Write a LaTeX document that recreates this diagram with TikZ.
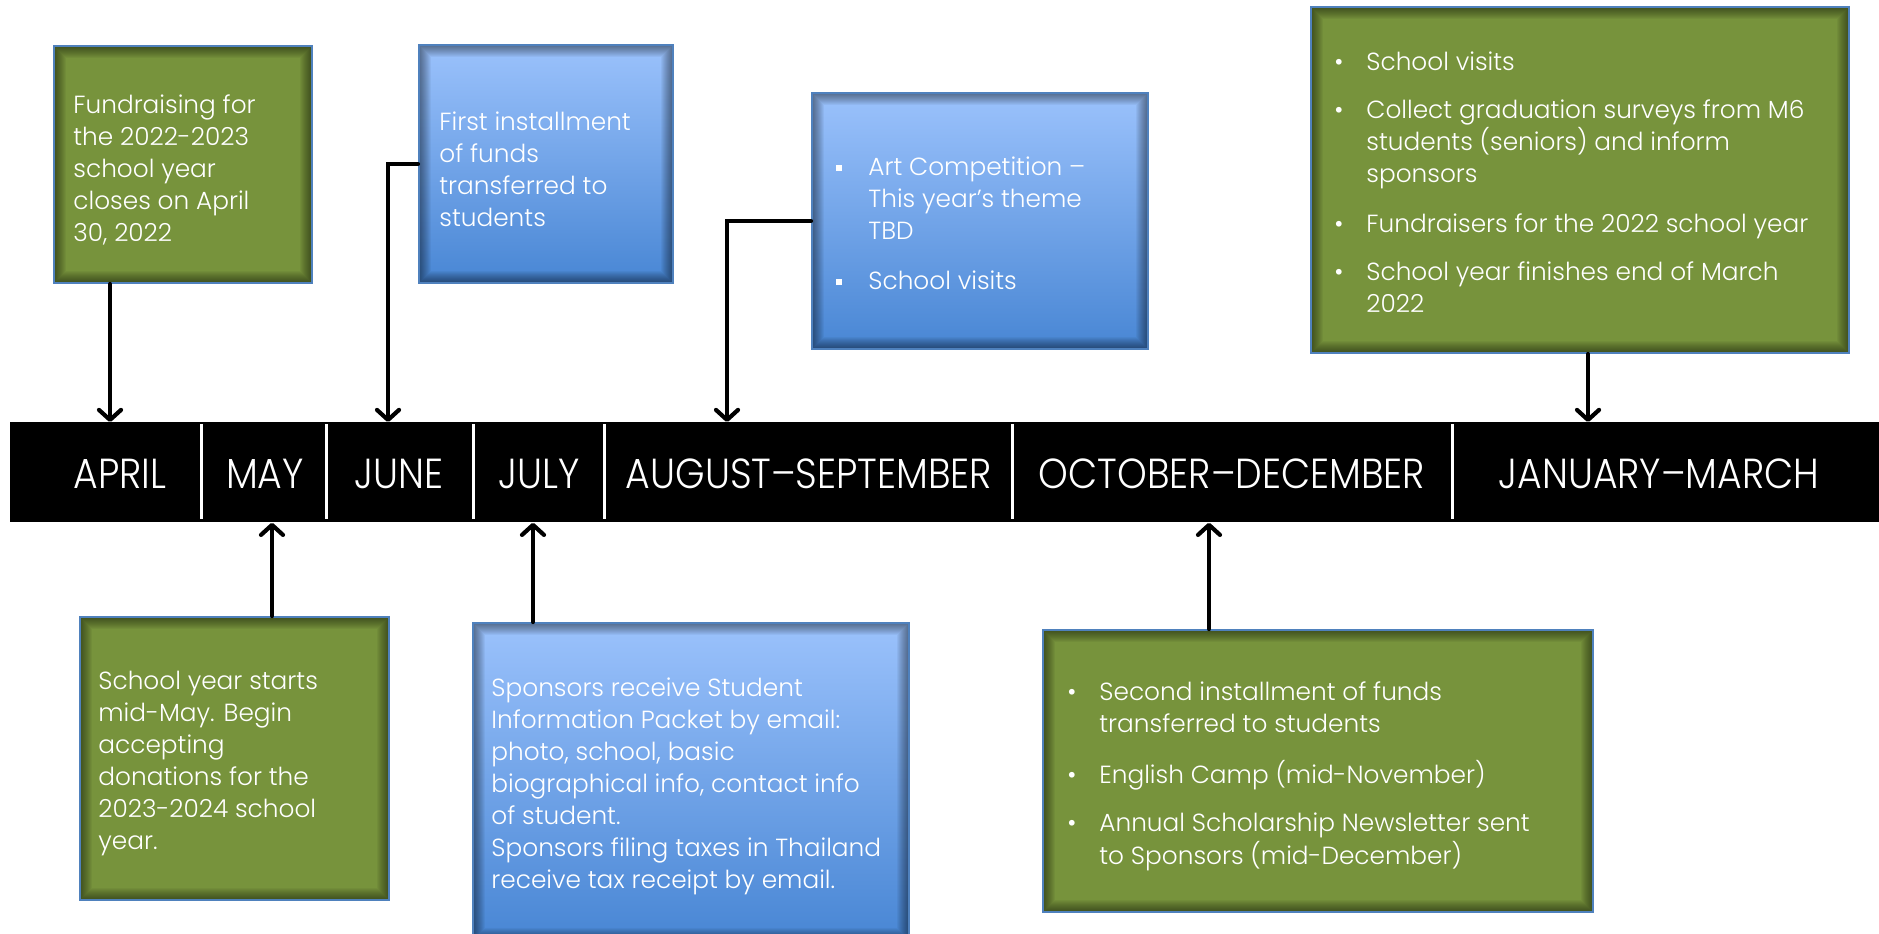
\documentclass[tikz,border=0pt]{standalone}
\usepackage{fontspec}
\usepackage{graphicx}
\IfFontExistsTF{Poppins Light}{\setmainfont{Poppins Light}}{\setmainfont{Poppins}}
\usetikzlibrary{arrows.meta,calc}
\definecolor{gfill}{RGB}{119,147,60}
\definecolor{btop}{RGB}{155,194,252}
\definecolor{bbot}{RGB}{72,134,212}
\definecolor{bord}{RGB}{79,129,189}
\newcommand\bul[2]{\makebox[16pt][l]{#1}\begin{tabular}[t]{@{}l@{}}#2\end{tabular}}
\newcommand\dotb{•}
\newcommand\sqb{\raisebox{2.2pt}{\rule{2.8pt}{2.8pt}}}
\newcommand\mlab[1]{\scalebox{0.9}[1]{#1}}
\tikzset{
  boxbase/.style={draw=bord, line width=1pt, rectangle, inner sep=0pt,
    path picture={
      \foreach \w in {1,...,12}{
        \draw[line width=\w pt, black, opacity=0.045] (path picture bounding box.south west) rectangle (path picture bounding box.north east);}
    }},
  gbox/.style={boxbase, fill=gfill},
  bbox/.style={boxbase, top color=btop, bottom color=bbot},
  txt/.style={text=white, align=left, inner sep=0pt, anchor=west, yshift=-2.5pt, font=\fontsize{12.4pt}{16pt}\selectfont},
  month/.style={text=white, inner sep=0pt, font=\fontsize{21pt}{25pt}\selectfont},
  conn/.style={line width=2.1pt, black, line cap=round, -{Straight Barb[length=5pt, width=11pt, round]}},
  sep/.style={white, line width=1.5pt},
}
\begin{document}
\begin{tikzpicture}[x=0.5pt, y=-0.5pt]
\useasboundingbox[fill=white] (0,0) rectangle (1879,933);

% timeline bar
\node[fill=black, minimum width=940pt, minimum height=50pt, anchor=north west, inner sep=0pt] (bar) at (10,422) {};
\foreach \x in {201,326,473,604,1012,1452}{\draw[sep] (\x,424) -- (\x,519);}
\node[month] (mApr) at (120,474) {\mlab{APRIL}};
\node[month] (mMay) at (265,474) {\mlab{MAY}};
\node[month] (mJun) at (399,474) {\mlab{JUNE}};
\node[month] (mJul) at (539,474) {\mlab{JULY}};
\node[month] (mAug) at (809,474) {\mlab{AUGUST–SEPTEMBER}};
\node[month] (mOct) at (1232,474) {\mlab{OCTOBER–DECEMBER}};
\node[month] (mJan) at (1659,474) {\mlab{JANUARY–MARCH}};

% boxes
\node[gbox, minimum width=129pt, minimum height=118.5pt] (b1) at (183,164.5) {};
\node[bbox, minimum width=127pt, minimum height=119pt] (b2) at (546,164) {};
\node[bbox, minimum width=168pt, minimum height=128pt] (b3) at (980,221) {};
\node[gbox, minimum width=269pt, minimum height=173pt] (b4) at (1580,180) {};
\node[gbox, minimum width=154.5pt, minimum height=141.5pt] (b5) at (234.5,758.5) {};
\node[bbox, minimum width=218pt, minimum height=158.5pt] (b6) at (691,781.5) {};
\node[gbox, minimum width=275pt, minimum height=141pt] (b7) at (1318,771) {};

% texts
\node[txt] (t1) at ([xshift=10pt]b1.west) {Fundraising for\\the 2022-2023\\school year\\closes on April\\30, 2022};
\node[txt] (t2) at ([xshift=10.5pt]b2.west) {First installment\\of funds\\transferred to\\students};
\node[txt] (t3) at ([xshift=12.5pt]b3.west) {\bul{\sqb}{Art Competition –\\This year’s theme\\TBD}\\[8pt]\bul{\sqb}{School visits}};
\node[txt] (t4) at ([xshift=12pt]b4.west) {\bul{\dotb}{School visits}\\[8pt]\bul{\dotb}{Collect graduation surveys from M6\\students (seniors) and inform\\sponsors}\\[8pt]\bul{\dotb}{Fundraisers for the 2022 school year}\\[8pt]\bul{\dotb}{School year finishes end of March\\2022}};
\node[txt] (t5) at ([xshift=9.5pt]b5.west) {School year starts\\mid-May. Begin\\accepting\\donations for the\\2023-2024 school\\year.};
\node[txt] (t6) at ([xshift=9.5pt]b6.west) {Sponsors receive Student\\Information Packet by email:\\photo, school, basic\\biographical info, contact info\\of student.\\Sponsors filing taxes in Thailand\\receive tax receipt by email.};
\node[txt] (t7) at ([xshift=12.5pt]b7.west) {\bul{\dotb}{Second installment of funds\\transferred to students}\\[8pt]\bul{\dotb}{English Camp (mid-November)}\\[8pt]\bul{\dotb}{Annual Scholarship Newsletter sent\\to Sponsors (mid-December)}};

% connectors
\coordinate (a1) at ([xshift=28.5pt]b1.south west);
\draw[conn] (a1) -- (a1 |- bar.north);
\coordinate (k2) at ([xshift=-15pt]b2.west);
\draw[conn] (b2.west) -- (k2) -- (k2 |- bar.north);
\coordinate (k3) at ([xshift=-42pt]b3.west);
\draw[conn] (b3.west) -- (k3) -- (k3 |- bar.north);
\coordinate (a4) at ([xshift=139pt]b4.south west);
\draw[conn] (a4) -- (a4 |- bar.north);
\coordinate (a5) at ([xshift=96.5pt]b5.north west);
\draw[conn] (a5) -- (a5 |- bar.south);
\coordinate (a6) at ([xshift=30.5pt]b6.north west);
\draw[conn] (a6) -- (a6 |- bar.south);
\coordinate (a7) at ([xshift=83.5pt]b7.north west);
\draw[conn] (a7) -- (a7 |- bar.south);
\end{tikzpicture}
\end{document}
